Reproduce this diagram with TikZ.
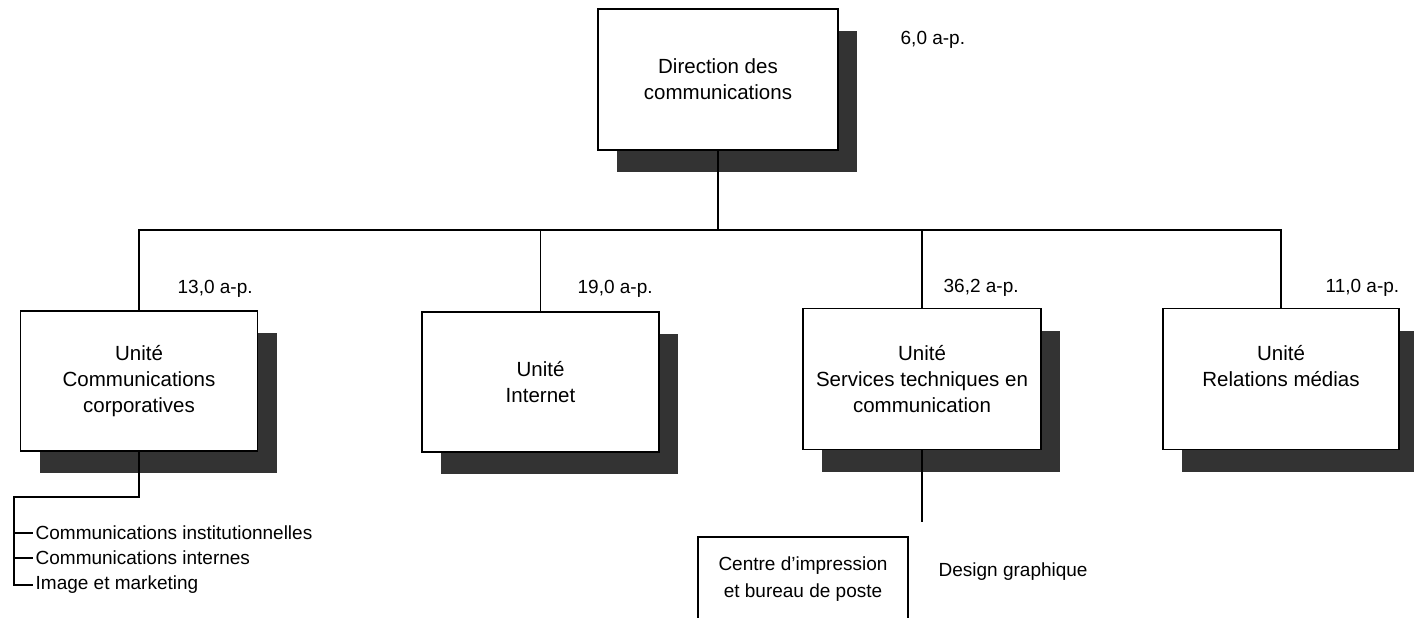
\documentclass[tikz,border=0pt]{standalone}
\usepackage{fontspec}
\setmainfont{Liberation Sans}
\usepackage{tikz}
\usetikzlibrary{shadows, calc}
\usepackage{xcolor}
\definecolor{shadowgray}{RGB}{51,51,51}

\begin{document}
\begin{tikzpicture}[x=1pt, y=-1pt, line width=1.3pt,
    unitbox/.style={draw=black, fill=white, align=center, inner sep=0pt,
      minimum width=237pt, minimum height=141pt,
      font=\fontsize{20.5}{26}\selectfont,
      drop shadow={shadow xshift=19pt, shadow yshift=-22pt, fill=shadowgray, opacity=1}},
    ftelabel/.style={anchor=west, inner sep=0pt, font=\fontsize{19}{22}\selectfont},
    subitem/.style={anchor=west, inner sep=2pt, font=\fontsize{19}{22}\selectfont}]
  \useasboundingbox (0,0) rectangle (1414,618);
  % boxes
  \node[unitbox, minimum width=240pt] (dir) at (718,79.5) {Direction des\\communications};
  \node[unitbox, minimum height=140pt] (corpo) at (139,381) {Unit\'e\\Communications\\corporatives};
  \node[unitbox, minimum height=140pt] (web) at (540.5,382) {Unit\'e\\Internet};
  \node[unitbox, minimum width=238pt] (tech) at (922,379) {Unit\'e\\Services techniques en\\communication};
  \node[unitbox, minimum width=236pt] (media) at (1281,379) {Unit\'e\\Relations m\'edias\\\mbox{}};
  % effectifs
  \node[ftelabel] (fdir) at (900,40) {6,0 a-p.};
  \node[ftelabel] (fcorpo) at (177,289) {13,0 a-p.};
  \node[ftelabel] (fweb) at (577,289) {19,0 a-p.};
  \node[ftelabel] (ftech) at (943,288) {36,2 a-p.};
  \node[ftelabel] (fmedia) at (1325,288) {11,0 a-p.};
  % bus
  \coordinate (bus) at (0,230);
  \draw (dir.south) -- (dir.south |- bus);
  \draw (corpo.north) |- (media.north |- bus) -- (media.north);
  \draw (web.north) -- (web.north |- bus);
  \draw (tech.north) -- (tech.north |- bus);
  % sous-unites corporatives
  \node[subitem] (inst) at (33,533) {Communications institutionnelles};
  \node[subitem] (intern) at (33,558) {Communications internes};
  \node[subitem] (image) at (33,585) {Image et marketing};
  \coordinate (trunk) at (14,497);
  \draw (corpo.south) |- (trunk) -- (trunk |- image.west) -- (image.west);
  \draw (trunk |- inst.west) -- (inst.west);
  \draw (trunk |- intern.west) -- (intern.west);
  % sous-unites techniques
  \coordinate (techend) at (923,522);
  \draw (tech.south) -- (tech.south |- techend);
  \node[draw, align=center, inner sep=0pt, minimum width=210pt, minimum height=85pt,
    font=\fontsize{19}{27}\selectfont] (print) at (803,579.5) {Centre d'impression\\et bureau de poste};
  \node[ftelabel] (design) at (938,572) {Design graphique};
\end{tikzpicture}
\end{document}
